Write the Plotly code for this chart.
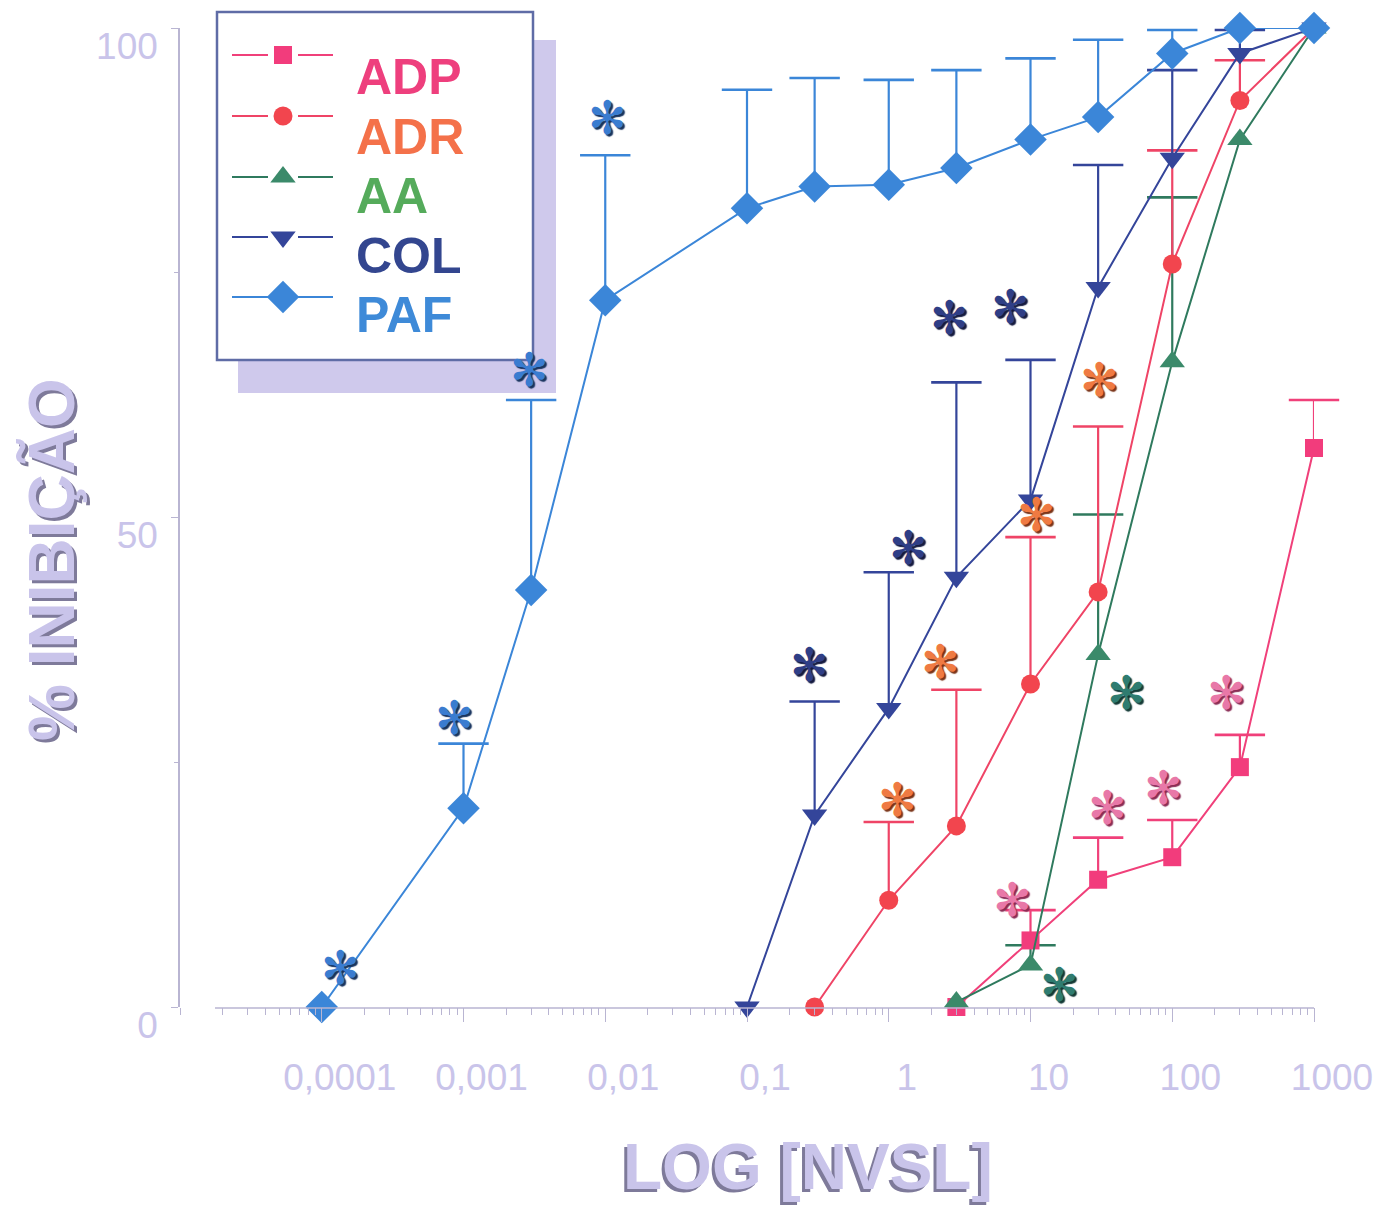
import math
import plotly.graph_objects as go

# ---- data: % inhibition of platelet aggregation vs. concentration ----
paf_x = [0.0001, 0.001, 0.003, 0.01, 0.1, 0.3, 1, 3, 10, 30, 100, 300, 1000]
paf_y = [0, 20.3, 42.6, 72.2, 81.6, 83.8, 84.0, 85.7, 88.6, 90.9, 97.4, 100, 100]
paf_top = [None, 26.9, 62.0, 87.0, 93.7, 94.9, 94.7, 95.7, 96.9, 98.8, 99.8, 100.8, None]

col_x = [0.1, 0.3, 1, 3, 10, 30, 100, 300, 1000]
col_y = [0, 19.6, 30.5, 43.9, 51.8, 73.5, 86.7, 97.4, 100]
col_top = [None, 31.2, 44.4, 63.8, 66.1, 86.0, 95.7, 99.8, None]

adr_x = [0.3, 1, 3, 10, 30, 100, 300, 1000]
adr_y = [0, 10.9, 18.5, 33.0, 42.4, 75.9, 92.6, 100]
adr_top = [None, 18.9, 32.4, 48.0, 59.3, 87.5, 96.7, None]

aa_x = [3, 10, 30, 100, 300, 1000]
aa_y = [0.5, 4.3, 36.0, 65.9, 88.6, 100]
aa_top = [None, 6.3, 50.3, 82.7, None, None]

adp_x = [3, 10, 30, 100, 300, 1000]
adp_y = [0, 6.8, 13.0, 15.3, 24.5, 57.1]
adp_top = [None, 9.9, 17.3, 19.1, 27.8, 62.0]

# significance asterisks (x, y) per agonist
paf_sig_x = [0.000135, 0.00087, 0.00294, 0.0103]
paf_sig_y = [4.0, 29.5, 65.1, 90.8]
col_sig_x = [0.278, 1.37, 2.7, 7.17]
col_sig_y = [34.9, 46.9, 70.4, 71.5]
adr_sig_x = [1.16, 2.30, 11.1, 30.9]
adr_sig_y = [21.1, 35.2, 50.3, 64.0]
aa_sig_x = [47.9, 16.1]
aa_sig_y = [32.1, 2.2]
adp_sig_x = [7.41, 35.2, 86.1, 243]
adp_sig_y = [10.9, 20.3, 22.4, 32.1]

tick_vals = [0.0001, 0.001, 0.01, 0.1, 1, 10, 100, 1000]
tick_text = ["0,0001", "0,001", "0,01", "0,1", "1", "10", "100", "1000"]
series_names = ["ADP", "ADR", "AA", "COL", "PAF"]

# ---- styling ----
SANS = "Liberation Sans, Arial, sans-serif"
LAV = "#c9c4ea"
LAV_DARK = "#7e7a9a"
AXIS_GRAY = "#b9b5d2"

styles = {
    "ADP": dict(line="#f0407a", marker="#f23c7c", symbol="square", size=18, label="#ee3f7d",
                star="#e878a8", star_dark="#8a2c55"),
    "ADR": dict(line="#ef4466", marker="#f2454e", symbol="circle", size=19, label="#f4714a",
                star="#ef7a42", star_dark="#7a3418"),
    "AA": dict(line="#2f7a5e", marker="#3b8a6a", symbol="triangle-up", size=22, label="#55ab5b",
               star="#2f7c70", star_dark="#133a36"),
    "COL": dict(line="#34459a", marker="#34459a", symbol="triangle-down", size=22, label="#33468f",
                star="#2f3e86", star_dark="#141a40"),
    "PAF": dict(line="#3b86d8", marker="#3b86d8", symbol="diamond", size=25, label="#3e8ad8",
                star="#3a7cd0", star_dark="#17335e"),
}

series = {
    "ADP": (adp_x, adp_y, adp_top),
    "ADR": (adr_x, adr_y, adr_top),
    "AA": (aa_x, aa_y, aa_top),
    "COL": (col_x, col_y, col_top),
    "PAF": (paf_x, paf_y, paf_top),
}
sig = {
    "ADP": (adp_sig_x, adp_sig_y),
    "ADR": (adr_sig_x, adr_sig_y),
    "AA": (aa_sig_x, aa_sig_y),
    "COL": (col_sig_x, col_sig_y),
    "PAF": (paf_sig_x, paf_sig_y),
}

# plot-area geometry (pixels) used for paper-referenced decorations
L, T, W, H = 180, 28, 1134, 979


def fx(px):
    return (px - L) / W


def fy(py):
    return (T + H - py) / H


fig = go.Figure()

# upper-only error bars (stem + cap) drawn beneath the curves
for name in ["AA", "ADP", "ADR", "COL", "PAF"]:
    xs, ys, tops = series[name]
    st = styles[name]
    sx, sy, cx, cy = [], [], [], []
    for x, y, t in zip(xs, ys, tops):
        if t is None:
            continue
        sx += [x, x, None]
        sy += [y, t, None]
        cx.append(x)
        cy.append(t)
    fig.add_trace(go.Scatter(x=sx, y=sy, mode="lines", line=dict(color=st["line"], width=2.2),
                             hoverinfo="skip", showlegend=False, cliponaxis=False))
    fig.add_trace(go.Scatter(x=cx, y=cy, mode="markers",
                             marker=dict(symbol="line-ew", size=36,
                                         line=dict(color=st["line"], width=2.6)),
                             hoverinfo="skip", showlegend=False, cliponaxis=False))

# concentration-response curves
for name in ["ADP", "AA", "ADR", "COL", "PAF"]:
    xs, ys, _ = series[name]
    st = styles[name]
    fig.add_trace(go.Scatter(x=xs, y=ys, mode="lines+markers", name=name,
                             line=dict(color=st["line"], width=2),
                             marker=dict(symbol=st["symbol"], size=st["size"], color=st["marker"],
                                         line=dict(width=0)),
                             showlegend=False, cliponaxis=False))

annotations = []

# significance asterisks (with a dark drop shadow)
for name in series_names:
    st = styles[name]
    for x, y in zip(*sig[name]):
        annotations.append(dict(x=math.log10(x), y=y, xref="x", yref="y", text="✻",
                                showarrow=False, xanchor="center", yanchor="middle",
                                font=dict(family="DejaVu Sans", size=46, color=st["star"],
                                          shadow="2px 2px 1px %s" % st["star_dark"])))

shapes = []

# x axis baseline
shapes.append(dict(type="line", xref="paper", yref="paper", x0=fx(215), x1=fx(1314),
                   y0=fy(1008), y1=fy(1008), line=dict(color=AXIS_GRAY, width=1.5)))

# legend panel: shadow + framed box
shapes.append(dict(type="rect", xref="paper", yref="paper", x0=fx(238), x1=fx(556),
                   y0=fy(393), y1=fy(40), fillcolor="#cfc9ec", line=dict(width=0), layer="below"))
shapes.append(dict(type="rect", xref="paper", yref="paper", x0=fx(217), x1=fx(533),
                   y0=fy(360), y1=fy(12), fillcolor="white",
                   line=dict(color="#5f6ca6", width=2.5), layer="below"))

# legend samples on a pixel-scaled overlay axis
row_y = [55, 116, 177, 237, 297]
label_y = [77, 137, 196, 256, 315]
for name, ry, ly in zip(series_names, row_y, label_y):
    st = styles[name]
    fig.add_trace(go.Scatter(x=[232, 268, None, 298, 333], y=[ry, ry, None, ry, ry],
                             mode="lines", line=dict(color=st["line"], width=2.2),
                             xaxis="x2", yaxis="y2", hoverinfo="skip", showlegend=False))
    fig.add_trace(go.Scatter(x=[283], y=[ry], mode="markers",
                             marker=dict(symbol=st["symbol"], size=st["size"], color=st["marker"]),
                             xaxis="x2", yaxis="y2", hoverinfo="skip", showlegend=False))
    annotations.append(dict(x=fx(354), y=fy(ly), xref="paper", yref="paper", text="<b>%s</b>" % name,
                            xanchor="left", yanchor="middle", showarrow=False,
                            font=dict(family=SANS, size=50, color=st["label"])))

# axis titles with drop shadow
annotations.append(dict(x=fx(808), y=fy(1167), xref="paper", yref="paper",
                        text="<b>LOG [NVSL]</b>", showarrow=False,
                        xanchor="center", yanchor="middle",
                        font=dict(family=SANS, size=64, color=LAV,
                                  shadow="-3px 3px 0px %s" % LAV_DARK)))
annotations.append(dict(x=fx(52), y=fy(560), xref="paper", yref="paper",
                        text="<b>% INIBIÇÃO</b>", showarrow=False, textangle=-90,
                        xanchor="center", yanchor="middle",
                        font=dict(family=SANS, size=64, color=LAV,
                                  shadow="-3px 3px 0px %s" % LAV_DARK)))

fig.update_layout(
    width=1394, height=1211,
    margin=dict(l=L, r=1394 - L - W, t=T, b=1211 - T - H),
    paper_bgcolor="white", plot_bgcolor="white",
    showlegend=False,
    xaxis=dict(type="log", range=[-5, 3], showgrid=False, zeroline=False, showline=False,
               tickvals=tick_vals, ticktext=tick_text, ticks="outside", ticklen=14,
               tickcolor=AXIS_GRAY, tickwidth=1.2,
               ticklabelshift=18, ticklabelstandoff=24,
               tickfont=dict(family=SANS, size=37, color=LAV),
               minor=dict(ticks="outside", ticklen=7, tickcolor=AXIS_GRAY, tickwidth=1, dtick="D1")),
    yaxis=dict(range=[0, 100], showgrid=False, zeroline=False, showline=True,
               linecolor=AXIS_GRAY, linewidth=1.5,
               tickvals=[0, 50, 100], ticktext=["0", "50", "100"],
               ticks="outside", ticklen=7, tickcolor=AXIS_GRAY,
               ticklabelshift=18, ticklabelstandoff=6,
               tickfont=dict(family=SANS, size=37, color=LAV),
               minor=dict(tickvals=[25, 75], ticks="outside", ticklen=4, tickcolor=AXIS_GRAY)),
    xaxis2=dict(overlaying="x", range=[L, L + W], visible=False, fixedrange=True),
    yaxis2=dict(overlaying="y", range=[T + H, T], visible=False, fixedrange=True),
    shapes=shapes,
    annotations=annotations,
)

fig.write_html("out.html")
